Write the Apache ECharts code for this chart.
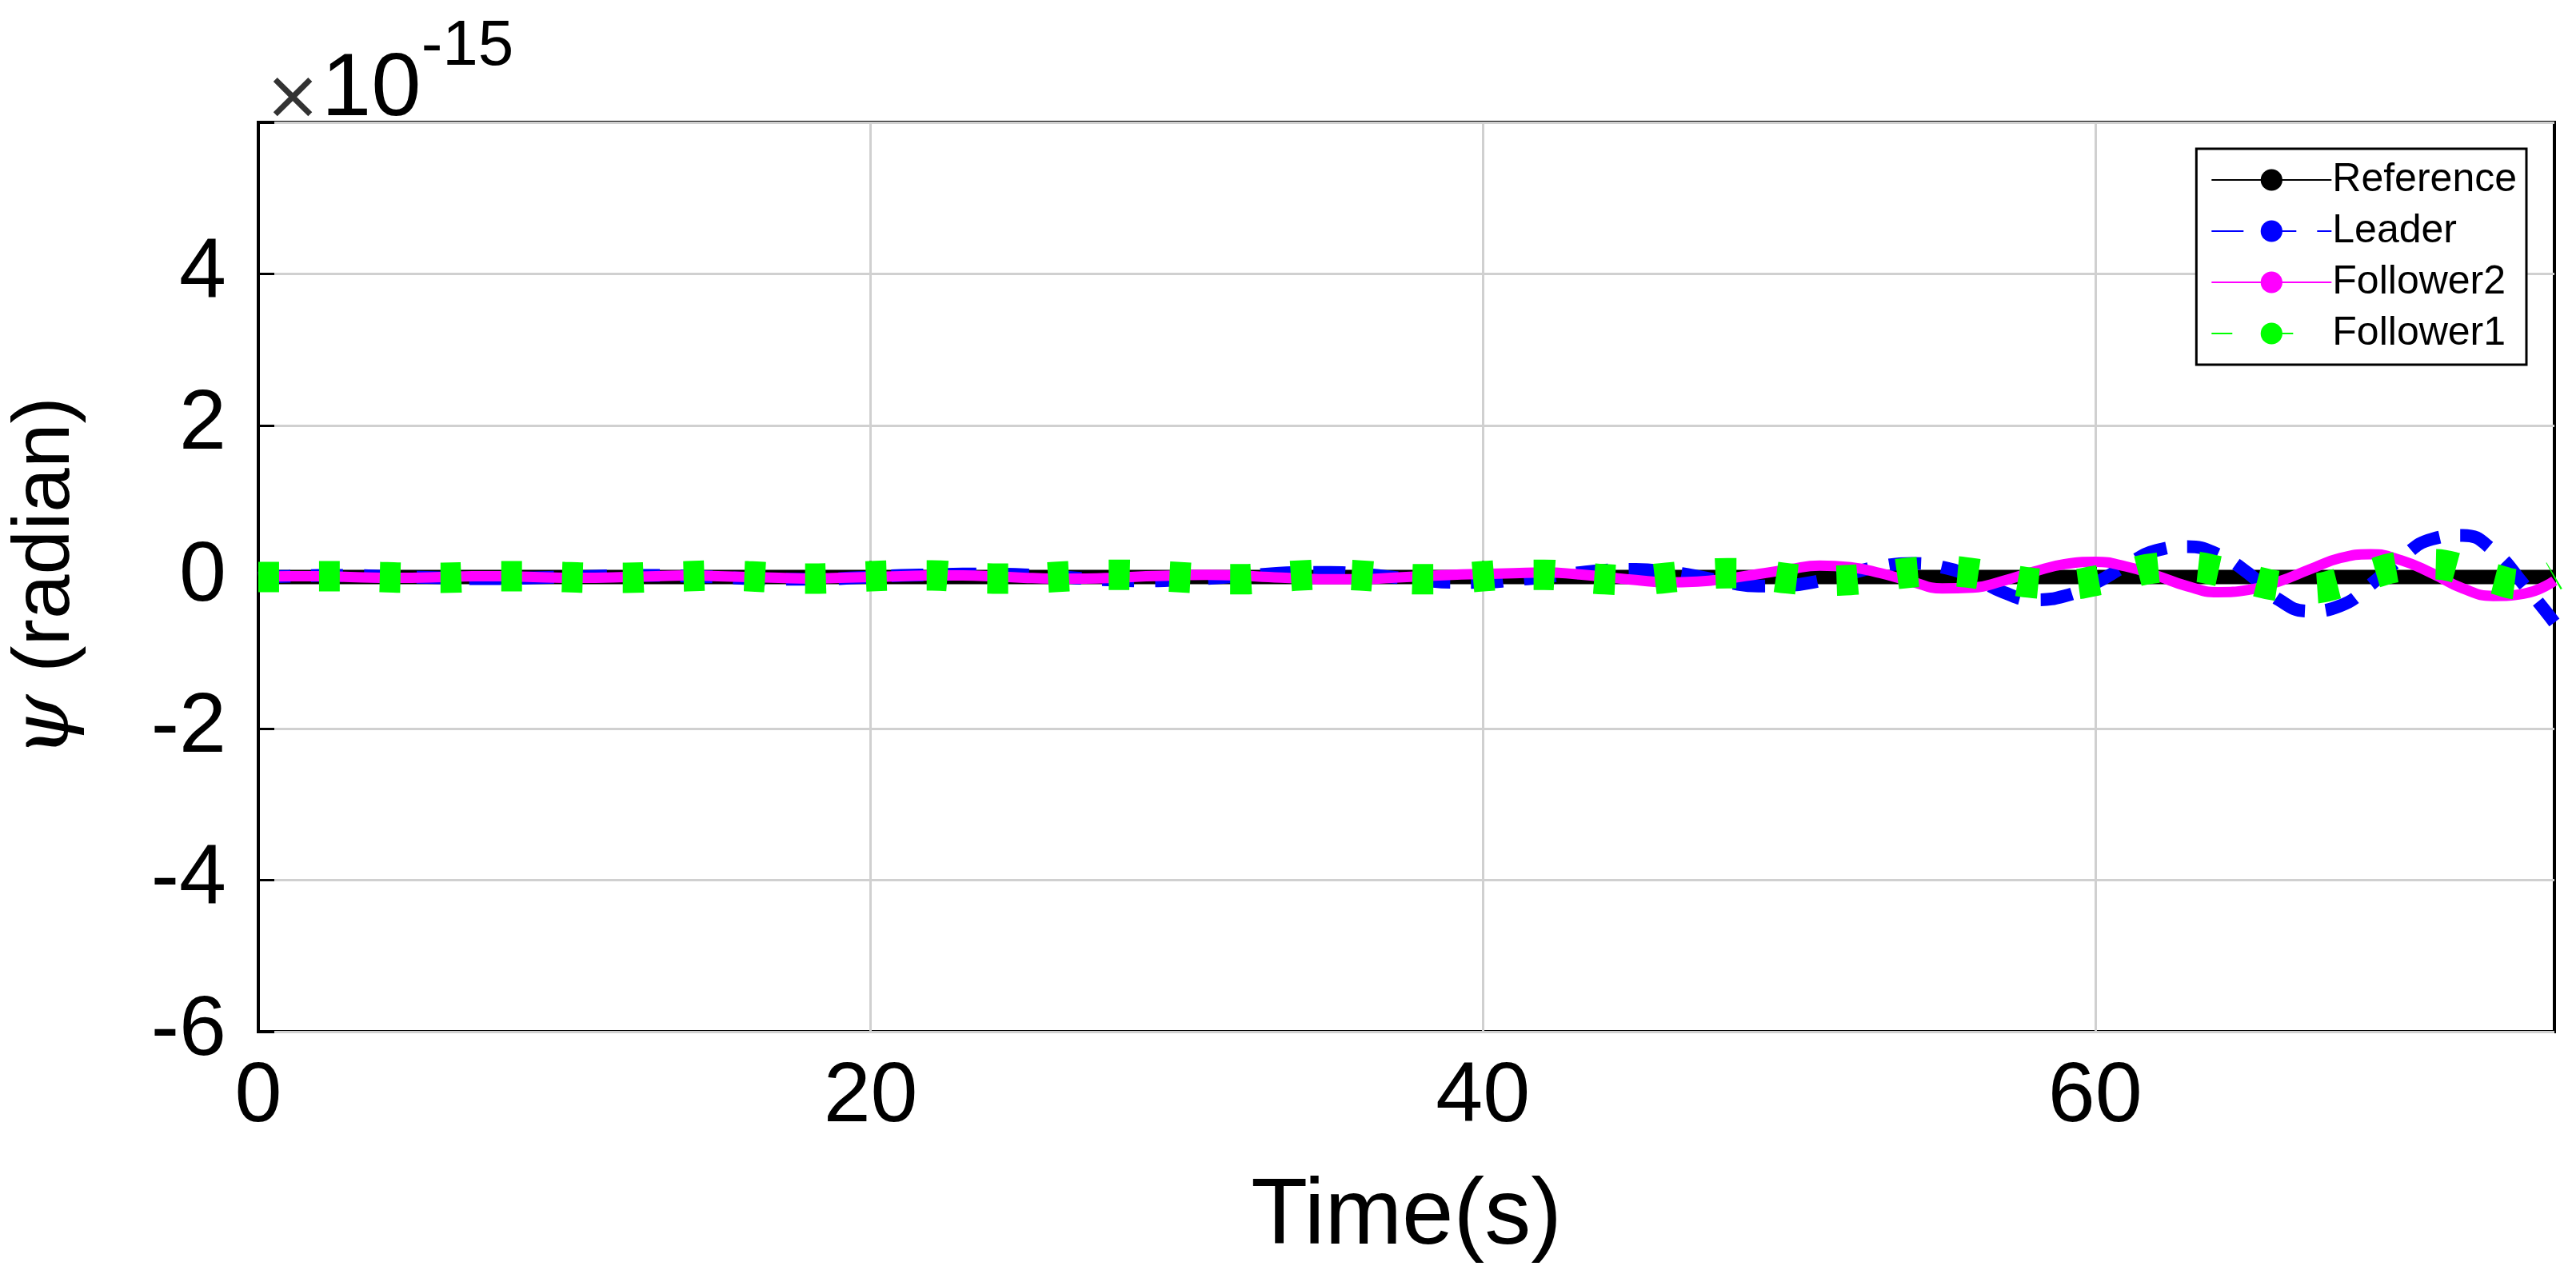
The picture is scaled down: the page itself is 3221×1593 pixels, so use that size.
<!DOCTYPE html>
<html>
<head>
<meta charset="UTF-8">
<title>psi</title>
<style>
  html,body{margin:0;padding:0;background:#fff;}
  #main{width:3221px;height:1593px;}
</style>
<script src="https://cdn.jsdelivr.net/npm/echarts@6/dist/echarts.min.js"></script>
</head>
<body>
<div id="main"></div>
<script>
// time 0..75 s, 1 s step; values in units of 1e-15 rad
var time = [];
for (var i = 0; i <= 75; i++) time.push(i);

var reference = time.map(function () { return 0; });

var leader = [0,0.01,0.02,0.02,0.01,0,-0.01,-0.02,-0.02,-0.01,
  0,0.01,0.02,0.02,0.01,0,-0.02,-0.03,-0.03,-0.02,
  0,0.02,0.03,0.04,0.04,0.03,0.01,-0.02,-0.04,-0.05,
  -0.04,-0.02,0.01,0.04,0.06,0.06,0.04,0.0,-0.04,-0.07,
  -0.07,-0.04,0.0,0.05,0.09,0.1,0.07,0.01,-0.07,-0.12,
  -0.11,-0.05,0.05,0.14,0.18,0.13,0.0,-0.2,-0.3,-0.25,
  -0.08,0.15,0.35,0.4,0.3,0.05,-0.3,-0.45,-0.38,-0.1,
  0.25,0.5,0.55,0.35,-0.1,-0.6];

var follower2 = [0,0.01,0.01,0,-0.01,-0.01,0,0.01,0.01,0,
  -0.01,-0.01,0,0.01,0.02,0.01,0,-0.01,-0.02,-0.01,
  0,0.01,0.02,0.02,0.01,-0.01,-0.02,-0.02,-0.01,0.01,
  0.02,0.03,0.02,0,-0.02,-0.03,-0.03,-0.01,0.01,0.03,
  0.04,0.05,0.06,0.04,0.0,-0.04,-0.07,-0.06,-0.02,0.04,
  0.1,0.15,0.13,0.05,-0.06,-0.15,-0.14,-0.05,0.07,0.17,
  0.2,0.14,0.02,-0.12,-0.2,-0.17,-0.06,0.1,0.25,0.3,
  0.22,0.05,-0.15,-0.25,-0.22,-0.05];

var follower1 = [0,0,0.01,0.01,0,-0.01,-0.01,0,0.01,0.01,
  0,-0.01,-0.01,0,0.01,0.02,0.01,-0.01,-0.02,-0.01,
  0.01,0.02,0.02,0,-0.02,-0.02,0,0.02,0.03,0.02,
  0,-0.02,-0.03,-0.01,0.02,0.03,0.02,-0.01,-0.03,-0.02,
  0.01,0.03,0.03,0,-0.03,-0.04,-0.01,0.03,0.05,0.03,
  -0.02,-0.05,-0.04,0.01,0.06,0.08,0.05,-0.02,-0.08,-0.1,
  -0.05,0.04,0.12,0.14,0.08,-0.03,-0.12,-0.15,-0.08,0.04,
  0.14,0.17,0.1,-0.02,-0.1,0.02];

var xTicks = [0, 20, 40, 60];
var yTicks = [-6, -4, -2, 0, 2, 4];

function pairs(arr) {
  return arr.map(function (v, i) { return [time[i], v]; });
}

var tickFont = { fontFamily: 'Liberation Sans, Arial', fontSize: 106, color: '#000' };
var chart = echarts.init(document.getElementById('main'));

chart.setOption({
  animation: false,
  backgroundColor: '#fff',
  grid: { left: 318, right: 27, top: 153, bottom: 303, show: true, borderColor: '#000', borderWidth: 4 },
  title: {
    text: '{x|×}{b|10}{s|-15}',
    left: 325, top: 14,
    textStyle: { fontWeight: 'normal', rich: {
      x: { fontSize: 86, fontFamily: 'DejaVu Sans', fontWeight: 'normal', color: '#333', verticalAlign: 'bottom' },
      b: { fontSize: 112, fontFamily: 'Liberation Sans', fontWeight: 'normal', color: '#000', verticalAlign: 'bottom' },
      s: { fontSize: 80, fontFamily: 'Liberation Sans', fontWeight: 'normal', color: '#000', verticalAlign: 'top', padding: [0, 0, 70, 0] }
    } }
  },
  legend: {
    right: 62, top: 186,
    orient: 'vertical',
    backgroundColor: '#fff', borderColor: '#000', borderWidth: 3,
    padding: [14, 12, 14, 18], itemGap: 14,
    itemWidth: 150, itemHeight: 34,
    textStyle: { fontFamily: 'Liberation Sans', fontSize: 50, color: '#000', padding: [0, 0, 0, -4] },
    data: ['Reference', 'Leader', 'Follower2', 'Follower1']
  },
  xAxis: {
    type: 'value', min: 0, max: 75, interval: 20,
    name: 'Time(s)', nameLocation: 'middle', nameGap: 175,
    nameTextStyle: { fontFamily: 'Liberation Sans', fontSize: 116, color: '#000' },
    axisLine: { show: true, lineStyle: { color: '#000', width: 4 } },
    axisTick: { show: true, inside: true, length: 20, lineStyle: { color: '#000', width: 3 },
      customValues: xTicks },
    axisLabel: Object.assign({ margin: 30, customValues: xTicks }, tickFont),
    splitLine: { show: true, lineStyle: { color: '#d0d0d0', width: 3 } }
  },
  yAxis: {
    type: 'value', min: -6, max: 6, interval: 2,
    name: '{i|ψ} (radian)', nameLocation: 'middle', nameGap: 215, nameRotate: 90,
    nameTextStyle: { fontFamily: 'Liberation Sans', fontSize: 100, color: '#000',
      rich: { i: { fontFamily: 'DejaVu Serif', fontStyle: 'italic', fontSize: 100 } } },
    axisLine: { show: true, lineStyle: { color: '#000', width: 4 } },
    axisTick: { show: true, inside: true, length: 20, lineStyle: { color: '#000', width: 3 } },
    axisLabel: Object.assign({ margin: 40, customValues: yTicks }, tickFont),
    splitLine: { show: true, lineStyle: { color: '#d0d0d0', width: 3 } }
  },
  series: [
    { name: 'Reference', type: 'line', data: pairs(reference), symbol: 'none',
      lineStyle: { color: '#000', width: 18 }, itemStyle: { color: '#000' } },
    { name: 'Leader', type: 'line', data: pairs(leader), smooth: true, symbol: 'none',
      lineStyle: { color: '#0000ff', width: 16, type: [40, 26] }, itemStyle: { color: '#0000ff' } },
    { name: 'Follower2', type: 'line', data: pairs(follower2), smooth: true, symbol: 'none',
      lineStyle: { color: '#ff00ff', width: 13 }, itemStyle: { color: '#ff00ff' } },
    { name: 'Follower1', type: 'line', data: pairs(follower1), smooth: true, symbol: 'none',
      lineStyle: { color: '#00ff00', width: 38, type: [26, 50], cap: 'butt' }, itemStyle: { color: '#00ff00' } }
  ]
});
</script>
</body>
</html>
